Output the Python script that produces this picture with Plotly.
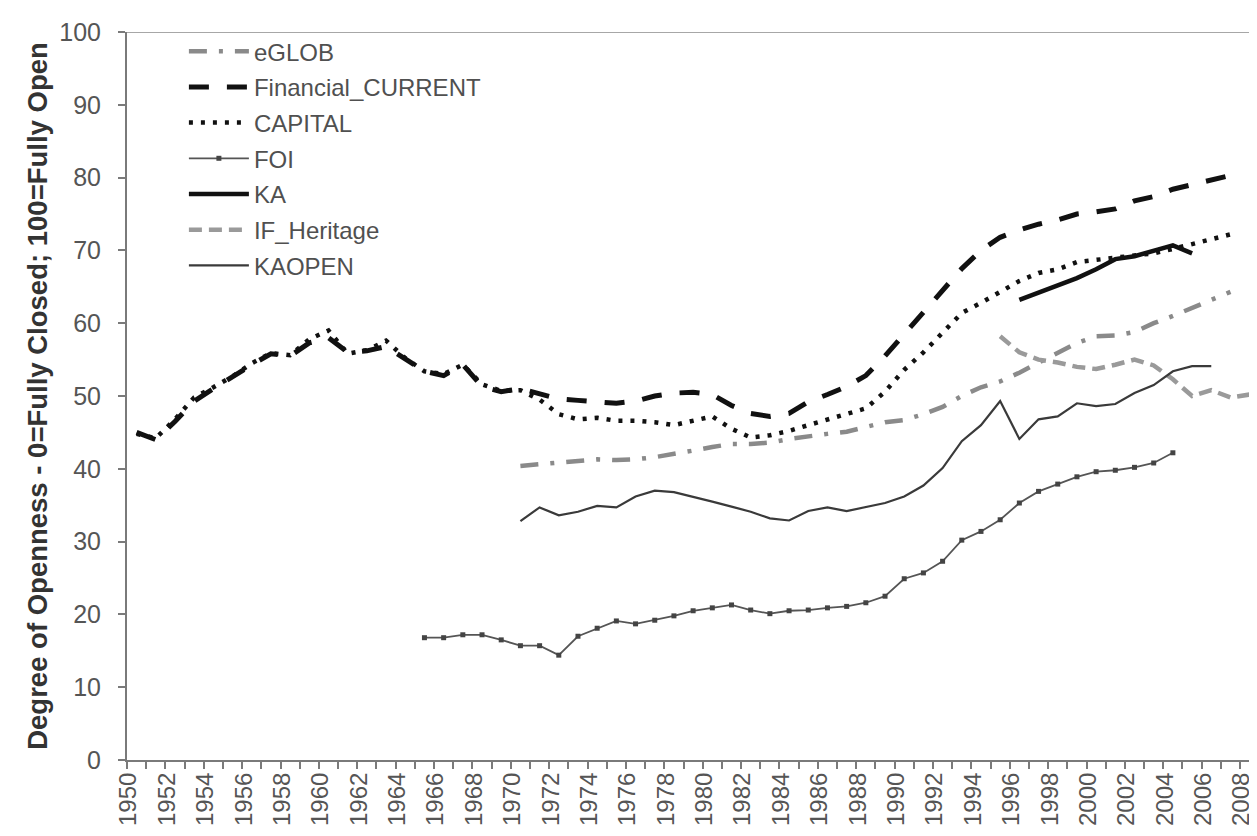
import plotly.graph_objects as go

# ---------------- data ----------------
fin_start = 1950
financial_current = [45, 44, 46.5, 49.3, 51, 52.7, 54.3, 55.8, 55.5, 57.3,
                     58, 56, 56.2, 56.8, 55, 53.4, 52.8, 54.3, 51.3, 50.6,
                     51, 50.3, 49.6, 49.4, 49.2, 49, 49.3, 50, 50.4, 50.5,
                     50.2, 48.7, 47.6, 47.2, 47.6, 49.2, 50.2, 51.3, 52.8, 55.5,
                     58.5, 61.5, 64.5, 67.5, 70, 71.8, 72.8, 73.6, 74.2, 75,
                     75.3, 75.7, 76.8, 77.4, 78.4, 79, 79.6, 80.3]

cap_start = 1950
capital = [44.8, 44.2, 46.8, 49.8, 51.2, 52.7, 54.5, 55.9, 55.6, 57.8,
           59, 55.8, 56.3, 57.6, 55.2, 53.4, 53, 54.3, 51.6, 50.7,
           50.8, 49.5, 47.5, 46.8, 47, 46.6, 46.6, 46.4, 46, 46.6,
           47.2, 45.5, 44.3, 44.6, 45.2, 46, 46.8, 47.5, 48.3, 50.6,
           53.6, 56, 58.8, 61.4, 62.8, 64.3, 65.8, 66.9, 67.4, 68.4,
           68.7, 69, 69.2, 69.6, 70.2, 70.9, 71.6, 72.2]

eglob_start = 1970
eglob = [40.4, 40.6, 40.8, 41, 41.3, 41.2, 41.3, 41.6, 42, 42.5,
         43, 43.4, 43.4, 43.6, 44.1, 44.5, 44.8, 45.1, 45.8, 46.4,
         46.7, 47.5, 48.5, 50, 51.2, 52, 53.2, 54.6, 56, 57.3,
         58.2, 58.3, 58.8, 60, 61, 62.1, 63.2, 64.3]

foi_start = 1965
foi = [16.8, 16.8, 17.2, 17.2, 16.5, 15.7, 15.7, 14.4, 17, 18.1,
       19.1, 18.7, 19.2, 19.8, 20.5, 20.9, 21.3, 20.6, 20.1, 20.5,
       20.6, 20.9, 21.1, 21.6, 22.5, 24.9, 25.7, 27.3, 30.2, 31.4,
       33, 35.3, 36.9, 37.9, 38.9, 39.6, 39.8, 40.2, 40.8, 42.2]

ka_start = 1996
ka = [63.2, 64.2, 65.3, 66.2, 67.4, 68.8, 69.2, 69.9, 70.7, 69.6]

ifh_start = 1995
if_heritage = [58.2, 56, 55, 54.6, 54, 53.7, 54.3, 55, 54.2, 52.3,
               50, 50.8, 49.8, 50.2, 48.3]

kaopen_start = 1970
kaopen = [32.8, 34.7, 33.6, 34.1, 34.9, 34.7, 36.2, 37, 36.8, 36.2,
          35.5, 34.8, 34.1, 33.2, 32.9, 34.2, 34.7, 34.2, 34.7, 35.3,
          36.2, 37.7, 40.1, 43.8, 46, 49.3, 44.1, 46.8, 47.2, 49,
          48.6, 48.9, 50.4, 51.5, 53.4, 54.1, 54.1]

tick_years = list(range(1950, 2009, 2))
tick_labels = [str(y) for y in tick_years]
y_ticks = list(range(0, 101, 10))


def yrs(start, vals):
    return list(range(start, start + len(vals)))


FONT = "Liberation Sans, Arial, sans-serif"

fig = go.Figure()

series = [
    ("eGLOB", eglob_start, eglob, dict(color="#8a8a8a", width=4.5, dash="18px,12px,4px,12px"), None),
    ("Financial_CURRENT", fin_start, financial_current, dict(color="#111111", width=5, dash="20px,18px"), None),
    ("CAPITAL", cap_start, capital, dict(color="#111111", width=4.5, dash="4px,8px"), None),
    ("FOI", foi_start, foi, dict(color="#555555", width=1.8), dict(symbol="square", size=5, color="#444444")),
    ("KA", ka_start, ka, dict(color="#111111", width=4.5), None),
    ("IF_Heritage", ifh_start, if_heritage, dict(color="#9a9a9a", width=4.5, dash="13px,7px"), None),
    ("KAOPEN", kaopen_start, kaopen, dict(color="#3a3a3a", width=2.2), None),
]

for i, (name, start, vals, line, marker) in enumerate(series):
    fig.add_trace(go.Scatter(
        x=yrs(start, vals), y=vals, name=name,
        mode="lines+markers" if marker else "lines",
        line=line, marker=marker,
        legendgroup=f"g{i}",
    ))

fig.update_layout(
    width=1257, height=836,
    margin=dict(l=119, r=0, t=24, b=84),
    paper_bgcolor="white", plot_bgcolor="white",
    font=dict(family=FONT, color="#444444"),
    showlegend=True,
    legend=dict(
        x=0.05, y=1.004, xanchor="left", yanchor="top",
        bgcolor="rgba(255,255,255,0)",
        font=dict(family=FONT, size=24, color="#505050"),
        traceorder="grouped", tracegroupgap=1.5,
        itemwidth=60,
    ),
    xaxis=dict(
        range=[1949.5, 2008.8],
        tickmode="array", tickvals=tick_years, ticktext=tick_labels,
        tickangle=-90, ticks="", ticklabelstandoff=1, ticklabelshift=-8,
        tickfont=dict(family=FONT, size=24, color="#555555"),
        showgrid=False, zeroline=False, automargin=False,
        showline=True, linecolor="#7a7a7a", linewidth=2,
        minor=dict(ticks="outside", tick0=1949.5, dtick=1, ticklen=7,
                   tickcolor="#7a7a7a", tickwidth=1.5, showgrid=False),
    ),
    yaxis=dict(
        range=[0, 100], automargin=False,
        tickmode="array", tickvals=y_ticks,
        ticks="outside", ticklen=7, tickcolor="#7a7a7a", tickwidth=1.5,
        ticklabelstandoff=12,
        tickfont=dict(family=FONT, size=25, color="#555555"),
        showgrid=False, zeroline=False,
        showline=True, linecolor="#7a7a7a", linewidth=2,
        title=dict(text="<b>Degree of Openness - 0=Fully Closed; 100=Fully Open</b>",
                   font=dict(family=FONT, size=27.5, color="#333333"), standoff=4),
    ),
)

# top border of the plot area
fig.add_shape(type="line", xref="paper", yref="y", x0=0, x1=1, y0=100, y1=100,
              line=dict(color="#8a8a8a", width=1.5))

fig.write_html("out.html")
